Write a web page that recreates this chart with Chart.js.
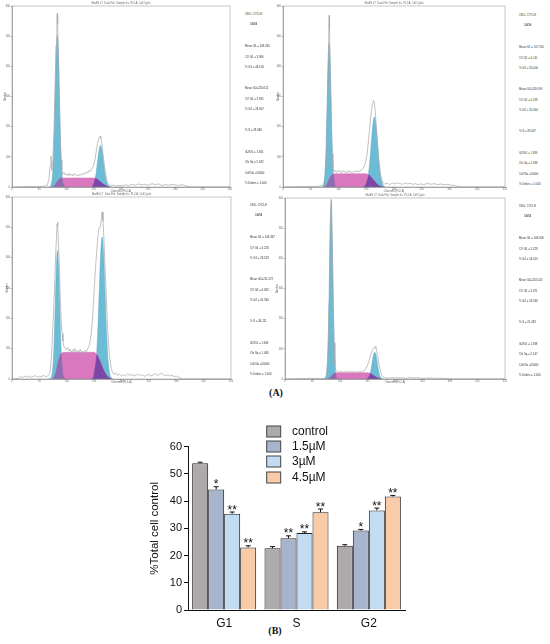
<!DOCTYPE html>
<html><head><meta charset="utf-8">
<script src="https://cdn.jsdelivr.net/npm/chart.js@4.4.1/dist/chart.umd.min.js"></script>
<style>
html,body{margin:0;padding:0;background:#fff;}
body{width:550px;height:644px;position:relative;overflow:hidden;font-family:"Liberation Sans",Arial,sans-serif;}
.wrap{position:absolute;}
.st{position:absolute;font-size:2.8px;line-height:3px;color:#333;white-space:nowrap;}
.lab{position:absolute;font-family:"Liberation Serif",serif;font-weight:bold;font-size:10px;color:#111;transform:translate(-50%,-50%);}
</style></head><body>
<div class="lab" style="left:276px;top:392px;">(A)</div>
<div class="lab" style="left:275px;top:630px;">(B)</div>
<script>
// ================= (A) histogram data: [channel, count] =================
const histXTicks = [0, 520, 65];   // min, max, step
const histYTicks = [0, 600, 100];

const p1Raw = [[0,0],[20,1],[40,2],[60,1],[75,3],[84,5],[88,25],[91,70],[93,102],[95,55],[97,75],[100,180],[103,350],[105,470],[107,560],[108,575],[109,540],[111,420],[113,280],[115,160],[117,90],[119,55],[121,42],[124,48],[127,40],[130,44],[133,37],[136,45],[139,38],[142,43],[145,36],[148,44],[151,39],[154,42],[157,36],[160,41],[163,38],[166,44],[169,40],[172,46],[175,43],[178,50],[181,47],[184,55],[187,52],[190,60],[193,66],[196,78],[199,100],[202,128],[205,150],[208,163],[210,168],[212,162],[214,145],[217,110],[220,75],[223,45],[226,22],[229,12],[232,7],[236,4],[242,6],[248,3],[255,5],[262,4],[270,7],[278,5],[286,9],[294,6],[302,10],[310,7],[318,9],[326,6],[334,11],[342,8],[350,10],[358,5],[366,8],[374,6],[382,9],[390,7],[398,5],[406,8],[414,4],[420,2],[428,0],[520,0]];
const p1G1 = [[88,0],[93,6],[98,68],[100.5,163],[103,305],[105.5,443],[108,503],[110.5,443],[113,305],[115.5,163],[118,68],[123,6],[128,0]];
const p1G2 = [[190,0],[197,19],[200.5,45],[204,84],[207.5,121],[211,138],[214.5,121],[218,84],[221.5,45],[225,19],[232,2],[236,0]];
const p1S = [[96,0],[100,3],[104,9],[108,18],[112,25],[117,29],[121,30],[195,30],[200,28],[206,23],[212,16],[218,9],[224,4],[230,1],[235,0]];
const p1OvL = [[96,0],[100,3],[104,9],[108,18],[112,25],[117,29],[119.5,29],[121,17],[123,6],[128,0]];
const p1OvR = [[190,0],[193,5],[197,19],[198.5,28],[200,28],[206,23],[212,16],[218,9],[224,4],[230,1],[235,0]];

const p2Raw = [[0,0],[25,1],[45,2],[65,1],[85,3],[95,6],[99,30],[102,120],[105,330],[107,500],[108,569],[109,520],[111,380],[113,220],[115,110],[117,62],[119,52],[122,55],[125,48],[128,56],[131,50],[134,53],[137,47],[140,55],[143,50],[146,52],[149,46],[152,54],[155,49],[158,53],[161,47],[164,52],[167,48],[170,55],[173,50],[176,54],[179,49],[182,56],[185,58],[188,62],[191,70],[194,85],[197,110],[200,150],[203,195],[206,240],[209,270],[212,287],[214,280],[216,250],[219,190],[222,130],[225,80],[228,45],[231,25],[234,15],[238,10],[244,12],[250,8],[256,13],[262,10],[268,14],[274,11],[280,9],[286,13],[292,10],[298,12],[304,9],[310,11],[316,8],[322,10],[330,8],[338,12],[346,9],[354,11],[362,8],[370,10],[378,7],[386,9],[394,6],[402,5],[410,2],[420,0],[520,0]];
const p2G1 = [[91,0],[94.5,5],[99,64],[101.25,154],[103.5,288],[105.75,418],[108,475],[110.25,418],[112.5,288],[114.75,154],[117,64],[121.5,5],[125,0]];
const p2G2 = [[188,0],[191.5,3],[199,31],[202.75,75],[206.5,141],[210.25,204],[214,232],[217.75,204],[221.5,141],[225.25,75],[229,31],[236.5,3],[240,0]];
const p2S = [[97,0],[101,4],[105,14],[109,28],[113,38],[118,43],[122,44],[195,44],[200,41],[206,33],[212,23],[218,13],[224,6],[230,2],[234,0]];
const p2OvL = [[97,0],[101,4],[105,14],[109,28],[113,38],[117,41],[119,36],[121.5,5],[125,0]];
const p2OvR = [[188,0],[191.5,3],[196,15],[199,31],[201,40],[206,33],[212,23],[218,13],[224,6],[230,2],[234,0]];

const p3Raw = [[0,0],[15,2],[20,8],[25,4],[30,9],[35,6],[40,10],[45,5],[50,8],[55,11],[60,6],[65,9],[70,7],[75,12],[80,8],[85,10],[89,15],[92,40],[95,110],[98,200],[101,300],[104,420],[107,510],[108,518],[109,505],[111,430],[113,340],[115,250],[117,190],[119,150],[121,125],[123,108],[126,100],[129,96],[132,104],[135,92],[138,99],[141,86],[144,97],[147,90],[150,100],[153,85],[156,94],[159,88],[162,98],[165,82],[168,92],[171,86],[174,95],[177,90],[180,100],[183,110],[186,128],[189,160],[192,215],[195,290],[198,360],[201,420],[204,470],[207,500],[210,501],[212,530],[214,551],[216,520],[218,470],[220,400],[223,300],[226,200],[229,120],[232,70],[235,40],[238,24],[242,15],[246,20],[250,12],[255,16],[260,10],[265,14],[270,11],[275,17],[280,12],[285,15],[290,10],[295,13],[300,16],[305,11],[310,14],[315,9],[320,12],[325,15],[330,10],[335,13],[340,18],[345,12],[350,15],[355,20],[360,13],[365,11],[370,14],[375,10],[380,12],[385,8],[390,10],[395,6],[400,3],[405,0],[520,0]];
const p3G1 = [[86,0],[93,5],[98,57],[100.5,138],[103,257],[105.5,373],[108,424],[110.5,373],[113,257],[115.5,138],[118,57],[123,5],[128,0]];
const p3G2 = [[190,0],[193,5],[200,63],[203.5,152],[207,284],[210.5,412],[214,468],[217.5,412],[221,284],[224.5,152],[228,63],[235,5],[240,0]];
const p3S = [[96,0],[100,6],[104,20],[108,45],[112,68],[117,83],[122,88],[195,88],[200,83],[206,68],[212,48],[218,28],[224,13],[230,5],[237,0]];
const p3OvL = [[96,0],[100,6],[104,20],[108,45],[112,68],[115,78],[117,83],[118,57],[123,5],[128,0]];
const p3OvR = [[190,0],[193,5],[200,63],[201.5,80],[206,68],[212,48],[218,28],[224,13],[230,5],[237,0]];

const p4Raw = [[0,0],[30,1],[60,2],[85,1],[95,3],[99,20],[102,100],[104,250],[106,420],[108,560],[109,595],[110,560],[112,420],[114,250],[116,120],[118,50],[120,30],[123,25],[126,22],[129,27],[132,23],[135,26],[138,21],[141,25],[144,22],[147,27],[150,23],[153,25],[156,21],[159,26],[162,22],[165,24],[168,21],[171,26],[174,23],[177,25],[180,22],[183,27],[186,25],[189,30],[192,36],[195,45],[198,58],[201,72],[204,86],[207,97],[210,104],[213,107],[215,102],[217,90],[220,68],[223,45],[226,25],[229,12],[232,6],[236,4],[245,3],[255,5],[265,3],[275,4],[285,2],[295,5],[305,3],[315,4],[325,2],[335,3],[345,4],[355,2],[365,3],[375,2],[385,1],[395,0],[520,0]];
const p4G1 = [[90,0],[97,6],[101,78],[103,187],[105,349],[107,507],[109,575],[111,507],[113,349],[115,187],[117,78],[121,6],[125,0]];
const p4G2 = [[192,0],[194,1],[200,12],[203,29],[206,54],[209,79],[212,89],[215,79],[218,54],[221,29],[224,12],[230,1],[234,0]];
const p4S = [[100,0],[104,2],[108,7],[112,13],[116,18],[121,21],[196,21],[201,19],[206,15],[211,10],[216,6],[221,3],[226,1],[229,0]];
const p4OvL = [[100,0],[104,2],[108,7],[112,13],[116,18],[119.5,20],[121,6],[125,0]];
const p4OvR = [[192,0],[194,1],[200,12],[201.5,18],[206,15],[211,10],[216,6],[221,3],[226,1],[229,0]];

const p1Stats = ["CELL CYCLE","DATA","Mean G1 = 108.265","CV G1 = 3.966","% G1 = 46.106","Mean G2=210.612","CV G2 = 3.995","% G2 = 24.807","% S = 28.080","G2/G1 = 1.945","Chi Sq = 5.632","Cell No =20000","% Debris = 1.000"];
const p2Stats = ["CELL CYCLE","DATA","Mean G1 = 107.950","CV G1 = 4.141","% G1 = 35.006","Mean G2=209.309","CV G2 = 4.198","% G2 = 35.364","% S = 28.637","G2/G1 = 1.939","Chi Sq = 2.638","Cell No =20000","% Debris = 1.000"];
const p3Stats = ["CELL CYCLE","DATA","Mean G1 = 108.367","CV G1 = 3.218","% G1 = 23.529","Mean G2=211.372","CV G2 = 4.363","% G2 = 41.360","% S = 34.111","G2/G1 = 1.949","Chi Sq = 1.468","Cell No =20000","% Debris = 1.000"];
const p4Stats = ["CELL CYCLE","DATA","Mean G1 = 108.606","CV G1 = 3.228","% G1 = 54.001","Mean G2=210.520","CV G2 = 3.071","% G2 = 23.566","% S = 21.433","G2/G1 = 1.938","Chi Sq = 2.147","Cell No =20000","% Debris = 1.000"];
const histTitle = "ModFit LT  Data File: Sample.fcs  FL2-A  Cell Cycle";
const histXTitle = "Channels (FL2-A)";
const histYTitle = "Number";

// ================= (B) bar chart data =================
const categories = ['G1','S','G2'];
const seriesNames = ['control','1.5µM','3µM','4.5µM'];
const valControl = [53.9, 22.7, 23.6];
const valC15 = [44.3, 26.4, 29.2];
const valC3 = [35.4, 28.3, 36.6];
const valC45 = [23.0, 35.9, 41.7];
const errControl = [0.4, 0.6, 0.4];
const errC15 = [1.0, 0.85, 0.4];
const errC3 = [0.6, 0.4, 0.85];
const errC45 = [0.6, 1.2, 0.4];
const starsControl = ['', '', ''];
const starsC15 = ['*','**','*'];
const starsC3 = ['**','**','**'];
const starsC45 = ['**','**','**'];
const yTicks = [0,10,20,30,40,50,60];
const yTitle = '%Total cell control';

// ================= drawing =================
const BLUE='#6cbcd5', PINK='#d977bf', PURL='#8e6cb0', PURR='#7a47a6', RAW='#a6a6a6';
const toXY = a => a.map(p => ({x:p[0], y:p[1]}));

function mkCanvas(left, top, w, h){
  const d=document.createElement('div'); d.className='wrap';
  d.style.left=left+'px'; d.style.top=top+'px'; d.style.width=w+'px'; d.style.height=h+'px';
  const c=document.createElement('canvas'); c.width=w; c.height=h; c.style.width=w+'px'; c.style.height=h+'px';
  d.appendChild(c); document.body.appendChild(d); return c;
}

const framePlugin = {
  id:'frame',
  afterDatasetsDraw(chart, args, opts){
    const {ctx, chartArea:ca} = chart;
    ctx.save();
    ctx.strokeStyle='#8a8a8a'; ctx.lineWidth=0.5;
    ctx.strokeRect(ca.left, ca.top, ca.right-ca.left, ca.bottom-ca.top);
    ctx.fillStyle='#666'; ctx.font='2.6px "Liberation Sans"'; ctx.textAlign='center'; ctx.textBaseline='alphabetic';
    ctx.fillText(opts.title||'', (ca.left+ca.right)/2, ca.top-1.6);
    ctx.restore();
  }
};

function fillDs(data, color, order, edge){
  return {data:toXY(data), borderColor:edge||color, backgroundColor:color, borderWidth:0.5, fill:'origin',
          pointRadius:0, cubicInterpolationMode:'monotone', order};
}

function makeHist(p){
  const c = mkCanvas(p.left, p.top, p.w, p.h);
  new Chart(c.getContext('2d'), {
    type:'line',
    data:{datasets:[
      {data:toXY(p.raw), borderColor:RAW, borderWidth:0.7, fill:false, pointRadius:0, tension:0, order:0},
      fillDs(p.ovL, PURL, 1), fillDs(p.ovR, PURR, 1),
      fillDs(p.s, PINK, 2),
      fillDs(p.g1, BLUE, 3, '#56a9c6'), fillDs(p.g2, BLUE, 3, '#56a9c6')
    ]},
    options:{
      responsive:false, animation:false, events:[],
      layout:{padding:p.pad},
      plugins:{legend:{display:false}, tooltip:{enabled:false}, frame:{title:histTitle}},
      scales:{
        x:{type:'linear', min:histXTicks[0], max:histXTicks[1],
           ticks:{stepSize:histXTicks[2], font:{size:2.6}, color:'#666', padding:0, maxRotation:0, autoSkip:false},
           grid:{drawOnChartArea:false, tickLength:1, color:'#777', lineWidth:0.5},
           border:{color:'#777', width:0.6},
           title:{display:true, text:histXTitle, font:{size:2.6}, color:'#666', padding:{top:0,bottom:p.xtp}},
           afterFit:s=>{s.height=p.xh;}},
        y:{min:histYTicks[0], max:histYTicks[1],
           ticks:{stepSize:histYTicks[2], font:{size:2.6}, color:'#666', padding:0.5},
           grid:{drawOnChartArea:false, tickLength:1.5, color:'#777', lineWidth:0.5},
           border:{color:'#777', width:0.6},
           title:{display:true, text:histYTitle, font:{size:2.6}, color:'#666', padding:{top:p.ytp,bottom:0}},
           afterFit:s=>{s.width=p.yw;}}
      }
    },
    plugins:[framePlugin]
  });
}

makeHist({left:0,top:0,w:234,h:196,pad:{top:6,right:4,left:0,bottom:0},yw:12,xh:9,xtp:3.2,ytp:4.2,
  raw:p1Raw,g1:p1G1,g2:p1G2,s:p1S,ovL:p1OvL,ovR:p1OvR});
makeHist({left:270,top:0,w:240,h:196,pad:{top:6,right:5,left:0,bottom:0},yw:13,xh:9,xtp:3.2,ytp:6.7,
  raw:p2Raw,g1:p2G1,g2:p2G2,s:p2S,ovL:p2OvL,ovR:p2OvR});
makeHist({left:0,top:190,w:236,h:198,pad:{top:7,right:5,left:0,bottom:0},yw:12,xh:9,xtp:3.7,ytp:5.5,
  raw:p3Raw,g1:p3G1,g2:p3G2,s:p3S,ovL:p3OvL,ovR:p3OvR});
makeHist({left:270,top:190,w:240,h:198,pad:{top:8,right:5,left:0,bottom:0},yw:15,xh:9,xtp:3.7,ytp:6.2,
  raw:p4Raw,g1:p4G1,g2:p4G2,s:p4S,ovL:p4OvL,ovR:p4OvR});

const statRel = [0,10,32,43,53,74,85,95,116,138,148,159,169];
function addStats(lines, x, y0){
  lines.forEach((t,i)=>{
    const d=document.createElement('div'); d.className='st';
    d.textContent=t; d.style.left=(x+(i===1?5:0))+'px'; d.style.top=(y0+statRel[i]-1.5)+'px';
    document.body.appendChild(d);
  });
}
addStats(p1Stats, 245, 14);
addStats(p2Stats, 519, 15);
addStats(p3Stats, 250, 205);
addStats(p4Stats, 519, 206);

// ---- bar chart ----
const barColors = ['#aeaaaa','#a7b4cb','#c1dcf3','#f9cba9'];
const barVals = [valControl, valC15, valC3, valC45];
const barErrs = [errControl, errC15, errC3, errC45];
const barStars = [starsControl, starsC15, starsC3, starsC45];

const errPlugin = {
  id:'errs',
  afterDatasetsDraw(chart){
    const {ctx} = chart; const ys = chart.scales.y;
    ctx.save();
    chart.data.datasets.forEach((ds, i)=>{
      const meta = chart.getDatasetMeta(i);
      meta.data.forEach((el, j)=>{
        const v = ds.data[j], e = ds.err[j];
        const top = ys.getPixelForValue(v), cap = ys.getPixelForValue(v+e);
        ctx.strokeStyle='#111'; ctx.lineWidth=1;
        ctx.beginPath(); ctx.moveTo(el.x, top); ctx.lineTo(el.x, cap);
        ctx.moveTo(el.x-2.5, cap); ctx.lineTo(el.x+2.5, cap); ctx.stroke();
        const st = ds.stars[j];
        if (st){
          ctx.fillStyle='#111'; ctx.font='12px "Liberation Sans"'; ctx.textAlign='center'; ctx.textBaseline='alphabetic';
          ctx.fillText(st, el.x, cap+1.5);
        }
      });
    });
    // legend
    ctx.font='12px "Liberation Sans"'; ctx.textAlign='left'; ctx.textBaseline='middle';
    const rows=[26,41,56,72];
    chart.data.datasets.forEach((ds,i)=>{
      ctx.fillStyle=ds.backgroundColor; ctx.fillRect(146.7, rows[i], 14, 11);
      ctx.strokeStyle='#444'; ctx.lineWidth=1; ctx.strokeRect(146.7, rows[i], 14, 11);
      ctx.fillStyle='#111'; ctx.fillText(ds.label, 172, rows[i]+6);
    });
    ctx.restore();
  }
};

const bc = mkCanvas(120, 400, 300, 244);
new Chart(bc.getContext('2d'), {
  type:'bar',
  data:{labels:categories, datasets: seriesNames.map((n,i)=>({
    label:n, data:barVals[i], err:barErrs[i], stars:barStars[i],
    backgroundColor:barColors[i], borderColor:'#222', borderWidth:1,
    categoryPercentage:0.885, barPercentage:1
  }))},
  options:{
    responsive:false, animation:false, events:[],
    layout:{padding:{top:46.7,right:15,left:0,bottom:0}},
    plugins:{legend:{display:false}, tooltip:{enabled:false}},
    scales:{
      x:{grid:{display:false, drawTicks:false}, border:{color:'#111', width:1},
         ticks:{font:{size:12, family:'"Liberation Sans"'}, color:'#111', padding:6},
         afterFit:s=>{s.height=34;}},
      y:{min:yTicks[0], max:yTicks[yTicks.length-1],
         ticks:{stepSize:yTicks[1]-yTicks[0], font:{size:11, family:'"Liberation Sans"'}, color:'#111', padding:2},
         grid:{drawOnChartArea:false, tickLength:4, color:'#111'},
         border:{color:'#111', width:1},
         title:{display:true, text:yTitle, font:{size:11.5, family:'"Liberation Sans"'}, color:'#111', padding:{top:28,bottom:0}},
         afterFit:s=>{s.width=68;}}
    }
  },
  plugins:[errPlugin]
});
</script>
</body></html>
